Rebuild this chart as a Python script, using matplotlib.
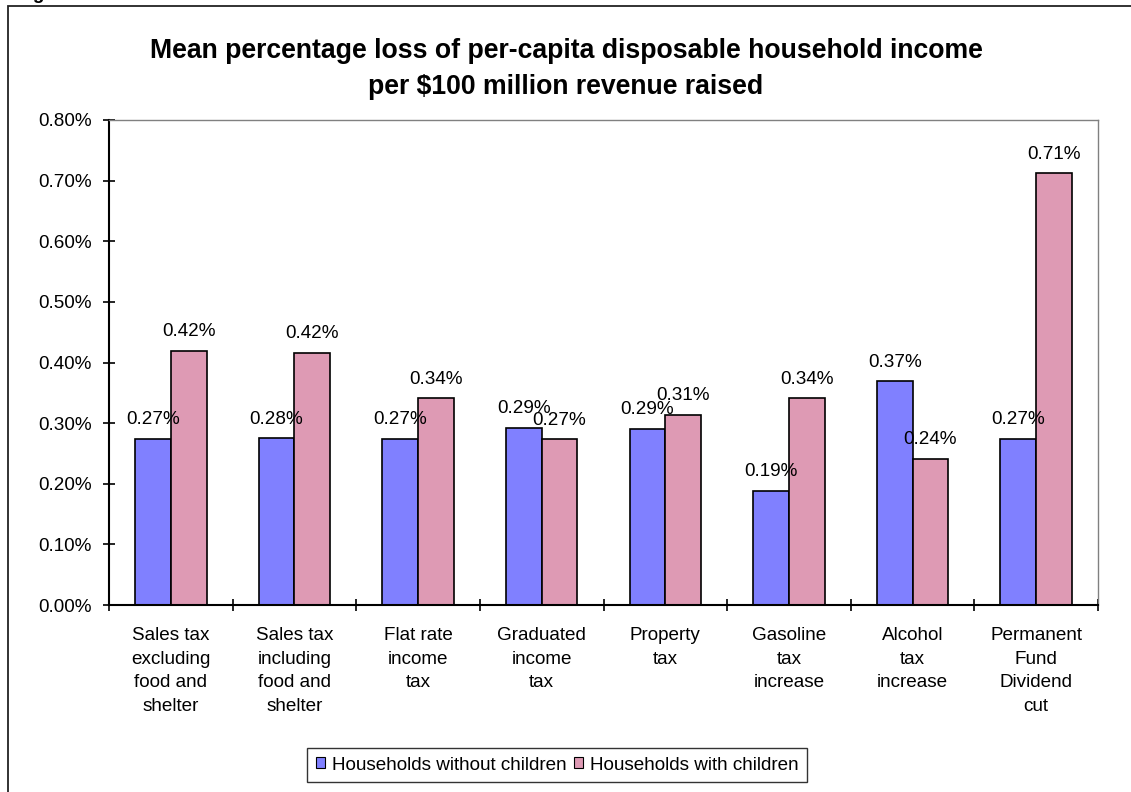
"""Mean percentage loss of per-capita disposable income, grouped bars."""

import matplotlib.pyplot as plt
import numpy as np
from matplotlib.patches import Rectangle
from matplotlib.ticker import FixedLocator, PercentFormatter

plt.rcParams["font.family"] = ["Liberation Sans", "DejaVu Sans"]

CATEGORIES = [
    "Sales tax\nexcluding\nfood and\nshelter",
    "Sales tax\nincluding\nfood and\nshelter",
    "Flat rate\nincome\ntax",
    "Graduated\nincome\ntax",
    "Property\ntax",
    "Gasoline\ntax\nincrease",
    "Alcohol\ntax\nincrease",
    "Permanent\nFund\nDividend\ncut",
]
# values in percent
WITHOUT_CHILDREN = [0.274, 0.275, 0.274, 0.292, 0.291, 0.188, 0.369, 0.274]
WITH_CHILDREN = [0.419, 0.416, 0.341, 0.273, 0.314, 0.341, 0.241, 0.712]
SERIES_NAMES = ["Households without children", "Households with children"]
COLOURS = ["#8080FF", "#DE9AB4"]

W, H = 1131, 792
FS = 13.6


def main() -> None:
    fig = plt.figure(figsize=(W / 100, H / 100), dpi=100)
    ax = fig.add_axes([109 / W, 1 - 605 / H, (1098 - 109) / W, (605 - 120) / H])

    # outer chart-area frame (runs off the right and bottom edges)
    fig.patches.append(
        Rectangle(
            (8 / W, -0.2), 1.2, 1.2 - 6 / H,
            transform=fig.transFigure, fill=False, lw=1.3, ec="#222222",
        )
    )
    fig.text(16 / W, 1 + 1 / H, "Figure 3", fontsize=FS, fontweight="bold",
             va="baseline", ha="left")

    x = np.arange(len(CATEGORIES))
    width = 0.289
    for k, (vals, colour, name) in enumerate(
        zip([WITHOUT_CHILDREN, WITH_CHILDREN], COLOURS, SERIES_NAMES)
    ):
        pos = x + (k - 0.5) * width
        ax.bar(pos, vals, width, color=colour, edgecolor="black", lw=1.2,
               label=name, zorder=2)
        for px, v in zip(pos, vals):
            ax.annotate(f"{v:.2f}%", (px, v), xytext=(0, 10.5),
                        textcoords="offset points", ha="center",
                        va="baseline", fontsize=FS)

    ax.set_xlim(-0.5, len(CATEGORIES) - 0.5)
    ax.set_ylim(0, 0.8)
    ax.yaxis.set_major_locator(FixedLocator(np.arange(0, 0.81, 0.1)))
    ax.yaxis.set_major_formatter(PercentFormatter(decimals=2))
    ax.xaxis.set_major_locator(FixedLocator(np.arange(-0.5, len(CATEGORIES))))
    ax.set_xticklabels([""] * (len(CATEGORIES) + 1))
    ax.set_xticks(x, CATEGORIES, minor=True)

    ax.tick_params(axis="both", which="major", direction="inout", length=9,
                   width=1.2, labelsize=FS, color="black")
    ax.tick_params(axis="y", pad=8)
    ax.tick_params(axis="x", which="minor", length=0, pad=16, labelsize=FS)
    for lab in ax.get_xticklabels(minor=True):
        lab.set_linespacing(1.5)

    for side in ("left", "bottom"):
        ax.spines[side].set_color("black")
        ax.spines[side].set_linewidth(1.5)
    for side in ("top", "right"):
        ax.spines[side].set_color("#808080")
        ax.spines[side].set_linewidth(1.0)

    fig.text(566 / W, 1 - 69 / H,
             "Mean percentage loss of per-capita disposable household income\n"
             "per $100 million revenue raised",
             ha="center", va="center", fontsize=19.2, fontweight="bold",
             linespacing=1.55)

    leg = fig.legend(loc="center", bbox_to_anchor=(557 / W, 1 - 765 / H),
                     ncol=2, fontsize=FS, frameon=True, fancybox=False,
                     handlelength=0.5, handleheight=0.5, handletextpad=0.35,
                     columnspacing=0.4, borderpad=0.45, borderaxespad=0)
    leg.get_frame().set_edgecolor("black")
    leg.get_frame().set_linewidth(1.0)
    for patch in leg.get_patches():
        patch.set_linewidth(0.8)

    fig.savefig("out.png", dpi=100)


if __name__ == "__main__":
    main()
